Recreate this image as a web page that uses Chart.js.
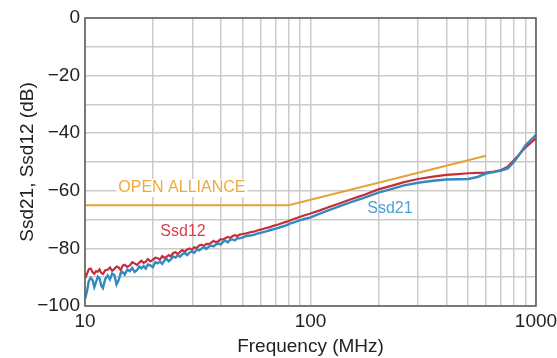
<!DOCTYPE html>
<html>
<head>
<meta charset="utf-8">
<script src="https://cdn.jsdelivr.net/npm/chart.js@4/dist/chart.umd.min.js"></script>
<style>
  html, body { margin: 0; padding: 0; background: #fff; overflow: hidden; }
  canvas { display: block; }
</style>
</head>
<body>
<canvas id="chart" width="557" height="358"></canvas>
<script>
// Frequency sweep points (MHz)
const freqMHz = [
  10, 10.2, 10.4, 10.6, 10.8, 11, 11.2, 11.4, 11.6, 11.8,
  12, 12.3, 12.6, 12.9, 13.2, 13.5, 13.8, 14.1, 14.4, 14.7,
  15, 15.4, 15.8, 16.2, 16.6, 17, 17.4, 17.8, 18.2, 18.6,
  19, 19.5, 20, 20.5, 21, 21.5, 22, 22.5, 23, 23.5,
  24, 24.6, 25.2, 25.8, 26.4, 27, 27.7, 28.4, 29.1, 29.8,
  30.5, 31.3, 32.1, 32.9, 33.7, 34.5, 35.4, 36.3, 37.2, 38.1,
  39, 40, 41, 42, 43, 44, 45, 46.2, 47.4, 48.6,
  50, 52, 54, 56, 58, 60, 63, 66, 69, 72, 75, 78,
  81, 85, 90, 95, 100, 110, 120, 135, 150,
  170, 200, 230, 260, 300, 350, 400, 450, 500, 550, 600, 650, 700, 750, 800, 850, 900, 950, 1000
];

// Ssd12 (dB)
const ssd12Db = [
  -90.4, -88.9, -87.2, -87.0, -88.2, -88.8, -87.9, -88.1, -87.3, -88.5,
  -88.9, -87.6, -87.4, -86.6, -87.8, -87.1, -86.3, -86.6, -87.6, -86.0,
  -85.7, -86.4, -85.9, -84.8, -85.2, -85.8, -84.9, -84.3, -85.0, -84.6,
  -83.7, -84.5, -84.0, -83.2, -83.4, -83.9, -82.7, -83.3, -82.9, -82.3,
  -82.8, -81.6, -81.3, -82.0, -81.2, -80.6, -81.1, -80.4, -80.0, -80.5,
  -79.6, -79.9, -79.0, -78.7, -79.2, -78.4, -78.5, -78.0, -77.4, -77.9,
  -77.5, -76.8, -76.9, -76.4, -76.0, -76.4, -75.8, -75.4, -75.7, -75.2,
  -75.0, -74.8, -74.4, -74.2, -73.8, -73.5, -73.0, -72.6, -72.1, -71.7, -71.2, -70.8,
  -70.3, -69.7, -69.0, -68.4, -67.9, -66.8, -65.7, -64.3, -63.0,
  -61.6, -59.5, -58.2, -57.0, -55.9, -55.1, -54.5, -54.2, -53.9, -53.8, -53.7, -53.3, -52.8, -51.6, -49.3, -47.0, -44.9, -43.3, -41.8
];

// Ssd21 (dB)
const ssd21Db = [
  -97.5, -95.0, -91.3, -90.2, -91.0, -93.4, -91.6, -89.8, -90.4, -92.9,
  -93.8, -90.6, -89.4, -90.8, -88.7, -89.2, -92.5, -91.0, -88.6, -88.2,
  -89.1, -87.4, -87.9, -86.8, -88.2, -87.6, -86.3, -86.9, -86.1, -87.0,
  -85.6, -85.9, -86.5, -84.8, -85.2, -84.6, -85.4, -84.2, -83.6, -84.5,
  -83.9, -82.8, -83.2, -82.4, -82.9, -82.0, -81.6, -82.3, -81.4, -81.1,
  -81.5, -80.4, -80.7, -80.0, -79.6, -80.2, -79.4, -79.0, -79.3, -78.6,
  -78.3, -78.6, -77.7, -77.3, -77.9, -77.0, -76.9, -77.2, -76.4, -76.5,
  -76.2, -75.7, -75.5, -75.3, -74.9, -74.6, -74.2, -73.7, -73.3, -72.9, -72.4, -72.0,
  -71.4, -70.9, -70.2, -69.7, -69.2, -67.9, -66.8, -65.3, -64.0,
  -62.6, -60.6, -59.3, -58.1, -57.2, -56.5, -56.1, -56.0, -55.9, -55.2, -54.0, -53.5, -53.0, -52.2, -49.9, -47.1, -44.1, -42.3, -40.6
];

// OPEN ALLIANCE limit line
const openAllianceMHz = [10, 80, 600];
const openAllianceDb = [-65, -65, -47.8];

// Axis ticks
const xGridMHz = [10, 20, 30, 40, 50, 60, 70, 80, 90, 100, 200, 300, 400, 500, 600, 700, 800, 900, 1000];
const xTickLabels = [10, 100, 1000];
const yTickLabels = [0, -20, -40, -60, -80, -100];

const toPoints = (xs, ys) => xs.map((x, i) => ({ x: x, y: ys[i] }));

const FONT = "'Liberation Sans', Arial, Helvetica, sans-serif";

// Series names drawn inside the plot, anchored in data coordinates
const seriesLabels = [
  { text: 'OPEN ALLIANCE', x: 26.9, y: -59.0, color: '#EFAA3C', bg: true },
  { text: 'Ssd12', x: 27.2, y: -74.3, color: '#D8404A', bg: false },
  { text: 'Ssd21', x: 225, y: -66.3, color: '#4AA2D6', bg: false }
];

const decorPlugin = {
  id: 'decor',
  beforeDatasetsDraw(chart) {
    const { ctx, scales } = chart;
    ctx.save();
    ctx.font = '16px ' + FONT;
    ctx.textAlign = 'center';
    ctx.textBaseline = 'middle';
    seriesLabels.forEach(l => {
      const px = scales.x.getPixelForValue(l.x);
      const py = scales.y.getPixelForValue(l.y);
      if (l.bg) {
        const w = ctx.measureText(l.text).width;
        ctx.fillStyle = '#ffffff';
        ctx.fillRect(px - w / 2 - 2, py - 9, w + 4, 18);
      }
      ctx.fillStyle = l.color;
      ctx.fillText(l.text, px, py);
    });
    ctx.restore();
  },
  afterDraw(chart) {
    const { ctx, chartArea: a } = chart;
    ctx.save();
    ctx.strokeStyle = '#5a5a5a';
    ctx.lineWidth = 1.5;
    ctx.strokeRect(a.left, a.top, a.right - a.left, a.bottom - a.top);
    ctx.restore();
  }
};

new Chart(document.getElementById('chart'), {
  type: 'line',
  data: {
    datasets: [
      {
        label: 'Ssd21',
        data: toPoints(freqMHz, ssd21Db),
        borderColor: '#3489C0',
        borderWidth: 2.4,
        pointRadius: 0,
        tension: 0,
        order: 1
      },
      {
        label: 'Ssd12',
        data: toPoints(freqMHz, ssd12Db),
        borderColor: '#C62F3A',
        borderWidth: 2.2,
        pointRadius: 0,
        tension: 0,
        order: 2
      },
      {
        label: 'OPEN ALLIANCE',
        data: toPoints(openAllianceMHz, openAllianceDb),
        borderColor: '#E3A33A',
        borderWidth: 2,
        pointRadius: 0,
        tension: 0,
        order: 3
      }
    ]
  },
  options: {
    responsive: false,
    animation: false,
    devicePixelRatio: 1,
    layout: { padding: { left: 12, right: 21, top: 18, bottom: 0 } },
    plugins: {
      legend: { display: false },
      tooltip: { enabled: false }
    },
    scales: {
      x: {
        type: 'logarithmic',
        min: 10,
        max: 1000,
        afterBuildTicks(scale) {
          scale.ticks = xGridMHz.map(v => ({ value: v }));
        },
        afterFit(scale) {
          scale.height = 52;
          scale.paddingLeft = 0;
          scale.paddingRight = 0;
        },
        grid: { color: '#cbcbcb', lineWidth: 1.5, drawTicks: false },
        border: { display: false },
        ticks: {
          autoSkip: false,
          maxRotation: 0,
          padding: 4,
          color: '#222',
          font: { family: FONT, size: 19 },
          callback: v => (xTickLabels.includes(v) ? String(v) : '')
        },
        title: {
          display: true,
          text: 'Frequency (MHz)',
          color: '#222',
          font: { family: FONT, size: 19 },
          padding: { top: 0, bottom: 0 }
        }
      },
      y: {
        type: 'linear',
        min: -100,
        max: 0,
        afterFit(scale) { scale.width = 73; },
        grid: { color: '#cbcbcb', lineWidth: 1.5, drawTicks: false },
        border: { display: false },
        ticks: {
          stepSize: 10,
          padding: 5,
          color: '#222',
          font: { family: FONT, size: 19 },
          callback: v => (yTickLabels.includes(v) ? (v < 0 ? '\u2212' + Math.abs(v) : String(v)) : '')
        },
        title: {
          display: true,
          text: 'Ssd21, Ssd12 (dB)',
          color: '#222',
          font: { family: FONT, size: 19 },
          padding: { top: 4, bottom: 4 }
        }
      }
    }
  },
  plugins: [decorPlugin]
});
</script>
</body>
</html>
